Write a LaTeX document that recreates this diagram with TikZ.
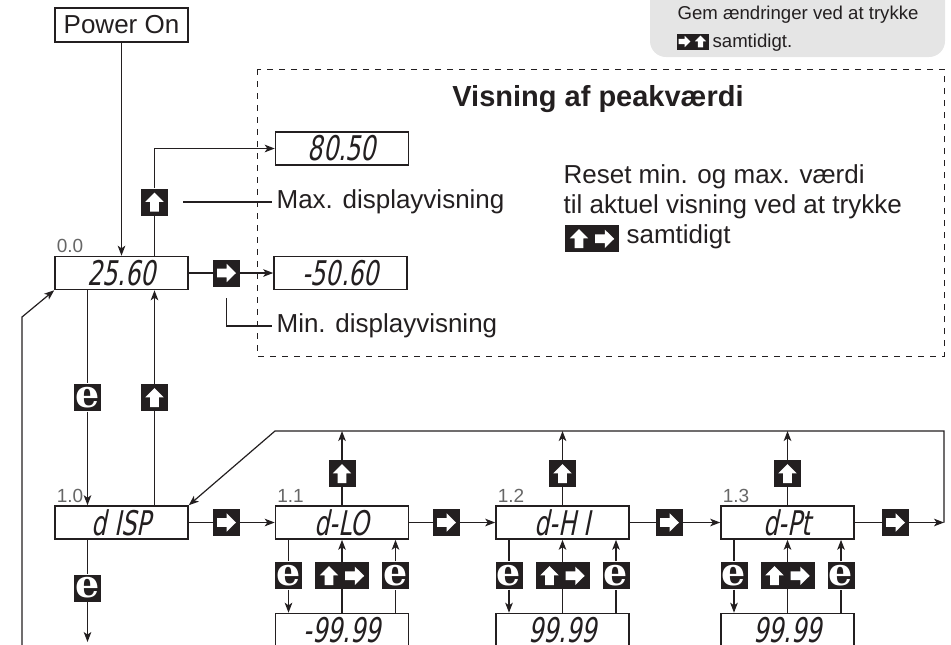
\documentclass[tikz,border=0pt]{standalone}
\usepackage{fontspec}
\setmainfont{Liberation Sans}
\newfontfamily\segfont{DejaVu Sans}[FakeSlant=0.2,FakeStretch=0.7]
\newfontfamily\keyfont{DejaVu Serif}
\usepackage{tikz}
\usetikzlibrary{arrows.meta,calc}
\definecolor{ink}{HTML}{231F20}
\newcommand{\upglyph}[1][1]{\tikz[scale=#1]\fill[white] (0pt,5pt) -- (4.6pt,0.3pt) -- (2.2pt,0.3pt) -- (2.2pt,-4.5pt) -- (-2.2pt,-4.5pt) -- (-2.2pt,0.3pt) -- (-4.6pt,0.3pt) -- cycle;}
\newcommand{\rightglyph}[1][1]{\tikz[scale=#1]\fill[white] (5pt,0pt) -- (0.3pt,4.6pt) -- (0.3pt,2.2pt) -- (-4.5pt,2.2pt) -- (-4.5pt,-2.2pt) -- (0.3pt,-2.2pt) -- (0.3pt,-4.6pt) -- cycle;}
\newcommand{\bothglyph}{\upglyph\hspace{3.5pt}\rightglyph}

\begin{document}
\begin{tikzpicture}[x=0.5pt, y=-0.5pt, color=ink, line width=0.6pt,
		>={Stealth[length=5pt,width=3.8pt,inset=1.3pt]},
		font=\fontsize{13}{15}\selectfont,
		lcd/.style={draw, line width=0.8pt, minimum width=66.5pt, minimum height=16.5pt, inner sep=0pt, font=\segfont\fontsize{17}{17}\selectfont},
		num/.style={anchor=south west, inner sep=1pt, text=black!60, font=\fontsize{9.5}{10}\selectfont},
		lbl/.style={anchor=base west, inner sep=0pt},
		keybox/.style={fill=ink, minimum size=13.5pt, inner sep=0pt, text=white},
		ekey/.style={keybox, font=\keyfont\bfseries\fontsize{19}{19}\selectfont},
		bothkey/.style={keybox, minimum width=27pt},
		smallkey/.style={keybox, minimum size=8pt}]
		\useasboundingbox (0,0) rectangle (951,644);

		% note in the corner
		\fill[black!10, rounded corners=8pt] (650,-20) rectangle (945,57);
		\node (gem1) [lbl, font=\fontsize{9.3}{10}\selectfont] at (677,19) {Gem ændringer ved at trykke};
		\node (gkr) [smallkey] at (684.5,41.5) {\rightglyph[0.62]};
		\node (gku) [smallkey] at (700.5,41.5) {\upglyph[0.62]};
		\node (gem2) [lbl, font=\fontsize{9.3}{10}\selectfont] at (712,47) {samtidigt.};

		% peak value frame
		\draw[dashed, line width=0.5pt] (257,69) rectangle (944,356);
		\node (title) [font=\fontsize{14.5}{16}\selectfont\bfseries] at (598,99) {Visning af peakværdi};
		\node (rs1) [lbl] at (563,183) {Reset min. og max. værdi};
		\node (rs2) [lbl] at (563,213) {til aktuel visning ved at trykke};
		\node (rsk) [bothkey] at (592,238.5) {\bothglyph};
		\node (rs3) [lbl] at (626,243) {samtidigt};

		% displays
		\node (power) [draw, line width=0.8pt, minimum width=66.5pt, minimum height=17pt] at (121.5,25) {Power On};
		\node (disp0) [lcd] at (121.5,273) {25.60};
		\node (maxv) [lcd] at (342,148.5) {80.50};
		\node (minv) [lcd] at (340.5,273) {-50.60};
		\node (dsp) [lcd] at (121.5,522.5) {d ISP};
		\node (dlo) [lcd] at (342,522.5) {d-LO};
		\node (dhi) [lcd] at (562.5,522.5) {d-H I};
		\node (dpt) [lcd] at (787.5,522.5) {d-Pt};
		\node (vlo) [lcd] at (342,630) {-99.99};
		\node (vhi) [lcd] at (562.5,630) {99.99};
		\node (vpt) [lcd] at (787.5,630) {99.99};
		\node (n00) [num] at (disp0.north west) {0.0};
		\node (n10) [num] at (dsp.north west) {1.0};
		\node (n11) [num] at (dlo.north west) {1.1};
		\node (n12) [num] at (dhi.north west) {1.2};
		\node (n13) [num] at (dpt.north west) {1.3};

		% keys
		\node (kmax) [keybox] at (154.5,202) {\upglyph};
		\node (kmin) [keybox] at (226.5,273) {\rightglyph};
		\node (ke0) [ekey] at (87.5,397.5) {e};
		\node (ku0) [keybox] at (154.5,397.5) {\upglyph};
		\node (ke1) [ekey] at (87.5,588) {e};
		\node (kr1) [keybox] at (226.5,522.5) {\rightglyph};
		\node (kr2) [keybox] at (446.5,522.5) {\rightglyph};
		\node (kr3) [keybox] at (669.5,522.5) {\rightglyph};
		\node (kr4) [keybox] at (895.5,522.5) {\rightglyph};
		\node (ku1) [keybox] at (342,473.5) {\upglyph};
		\node (ku2) [keybox] at (562.5,473.5) {\upglyph};
		\node (ku3) [keybox] at (787.5,473.5) {\upglyph};
		\node (kea1) [ekey] at (288.5,575.5) {e};
		\node (kb1) [bothkey] at (342,575.5) {\bothglyph};
		\node (keb1) [ekey] at (395.5,575.5) {e};
		\node (kea2) [ekey] at (509,575.5) {e};
		\node (kb2) [bothkey] at (562.5,575.5) {\bothglyph};
		\node (keb2) [ekey] at (616,575.5) {e};
		\node (kea3) [ekey] at (734,575.5) {e};
		\node (kb3) [bothkey] at (787.5,575.5) {\bothglyph};
		\node (keb3) [ekey] at (841,575.5) {e};

		% labels with pointers
		\node (maxlbl) [anchor=west, inner sep=2pt] at (272,202) {Max. displayvisning};
		\node (minlbl) [anchor=west, inner sep=2pt] at (272,326) {Min. displayvisning};
		\coordinate (maxpt) at (183,202);
		\coordinate (minpt) at (226.5,298);
		\draw (maxpt) -- (maxlbl.west);
		\draw (minpt) |- (minlbl.west);

		% free ends
		\coordinate (dspout) at (87.5,642);
		\coordinate (retbot) at (22,660);
		\coordinate (retknee) at (22,317);
		\coordinate (loopr) at (944,522.5);
		\coordinate (loopt) at (944,431);
		\coordinate (loopl) at (275,431);

		% main level
		\draw[->] (power) -- (disp0);
		\draw (disp0.north -| kmax) -- (kmax);
		\draw[->] (kmax) |- (maxv);
		\draw (disp0) -- (kmin);
		\draw[->] (kmin) -- (minv);
		\draw (disp0.south -| ke0) -- (ke0);
		\draw[->] (ke0) -- (ke0 |- dsp.north);
		\draw (dsp.north -| ku0) -- (ku0);
		\draw[->] (ku0) -- (ku0 |- disp0.south);
		\draw (dsp.south -| ke1) -- (ke1);
		\draw[->] (ke1) -- (dspout);
		\draw[->] (retbot) -- (retknee) -- (disp0.south west);

		% menu row
		\draw (dsp) -- (kr1);
		\draw[->] (kr1) -- (dlo);
		\draw (dlo) -- (kr2);
		\draw[->] (kr2) -- (dhi);
		\draw (dhi) -- (kr3);
		\draw[->] (kr3) -- (dpt);
		\draw (dpt) -- (kr4);
		\draw[->] (kr4) -- (loopr);
		\draw[->] (loopr) -- (loopt) -- (loopl) -- (dsp.north east);
		\draw (dlo) -- (ku1);
		\draw[->] (ku1) -- (ku1 |- loopt);
		\draw (dhi) -- (ku2);
		\draw[->] (ku2) -- (ku2 |- loopt);
		\draw (dpt) -- (ku3);
		\draw[->] (ku3) -- (ku3 |- loopt);

		% values
		\draw (dlo.south -| kea1) -- (kea1);
		\draw[->] (kea1) -- (kea1 |- vlo.north);
		\draw (vlo.north -| kb1) -- (kb1);
		\draw[->] (kb1) -- (kb1 |- dlo.south);
		\draw (vlo.north -| keb1) -- (keb1);
		\draw[->] (keb1) -- (keb1 |- dlo.south);
		\draw (dhi.south -| kea2) -- (kea2);
		\draw[->] (kea2) -- (kea2 |- vhi.north);
		\draw (vhi.north -| kb2) -- (kb2);
		\draw[->] (kb2) -- (kb2 |- dhi.south);
		\draw (vhi.north -| keb2) -- (keb2);
		\draw[->] (keb2) -- (keb2 |- dhi.south);
		\draw (dpt.south -| kea3) -- (kea3);
		\draw[->] (kea3) -- (kea3 |- vpt.north);
		\draw (vpt.north -| kb3) -- (kb3);
		\draw[->] (kb3) -- (kb3 |- dpt.south);
		\draw (vpt.north -| keb3) -- (keb3);
		\draw[->] (keb3) -- (keb3 |- dpt.south);
	\end{tikzpicture}
\end{document}
